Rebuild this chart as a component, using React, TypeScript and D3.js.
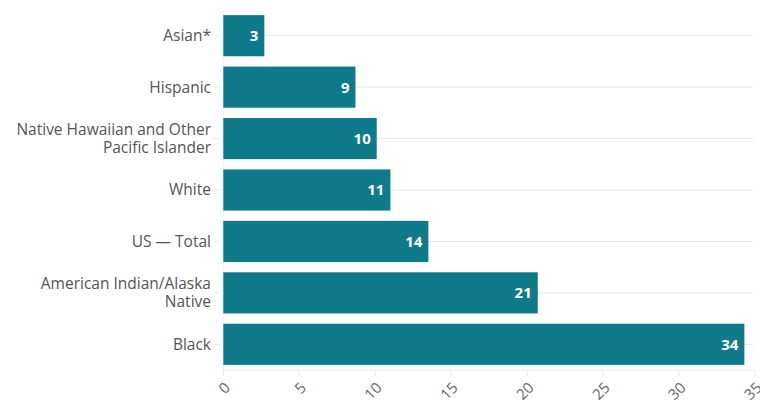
import React from "react";
import * as d3 from "d3";

const categories: string[][] = [
  ["Asian*"],
  ["Hispanic"],
  ["Native Hawaiian and Other", "Pacific Islander"],
  ["White"],
  ["US \u2014 Total"],
  ["American Indian/Alaska", "Native"],
  ["Black"],
];
const values = [2.7, 8.7, 10.1, 11.0, 13.5, 20.7, 34.3];
const xTicks = [0, 5, 10, 15, 20, 25, 30, 35];

const W = 760;
const H = 404;
const FONT = "'Open Sans', sans-serif";

export default function App() {
  const x = d3.scaleLinear().domain([0, 35]).range([223.3, 755]);
  const keys = categories.map((c) => c.join(" "));
  const y = d3
    .scaleBand<string>()
    .domain(keys)
    .range([10, 370])
    .paddingInner(0.2)
    .paddingOuter(0.1);
  const bw = y.bandwidth();

  return (
    <svg
      width={W}
      height={H}
      style={{ position: "absolute", left: 0, top: 0, background: "#fff" }}
    >
      {keys.map((k) => (
        <line
          key={"g" + k}
          x1={x(0)}
          x2={753}
          y1={(y(k) as number) + bw / 2}
          y2={(y(k) as number) + bw / 2}
          stroke="#e6e8ea"
          strokeWidth={1}
        />
      ))}
      <line x1={x(0)} x2={x(0)} y1={10} y2={370} stroke="#eef0f3" />
      <line x1={x(0)} x2={755} y1={370} y2={370} stroke="#e3e9f3" />
      {keys.map((k, i) => (
        <rect
          key={"b" + k}
          x={x(0)}
          y={y(k)}
          width={x(values[i]) - x(0)}
          height={bw}
          fill="#0f7a8a"
        />
      ))}
      {keys.map((k, i) => (
        <text
          key={"v" + k}
          x={x(values[i]) - 6}
          y={(y(k) as number) + bw / 2}
          dy="0.36em"
          textAnchor="end"
          fill="#fff"
          fontFamily={FONT}
          fontWeight={700}
          fontSize={15}
        >
          {Math.round(values[i])}
        </text>
      ))}
      {categories.map((lines, i) => {
        const cy = (y(keys[i]) as number) + bw / 2;
        const lh = 18;
        const start = cy - ((lines.length - 1) * lh) / 2;
        return (
          <g key={"y" + i}>
            <line x1={214} x2={219} y1={cy} y2={cy} stroke="#e3e6ea" />
            <text
              textAnchor="end"
              fill="#555"
              fontFamily={FONT}
              fontSize={15.5}
            >
              {lines.map((l, j) => (
                <tspan key={j} x={211} y={start + j * lh} dy="0.35em">
                  {l}
                </tspan>
              ))}
            </text>
          </g>
        );
      })}
      {xTicks.map((t) => (
        <g key={"x" + t} transform={`translate(${x(t)},370)`}>
          <line y1={0} y2={6} stroke="#e3e6ea" />
          <text
            transform="translate(4,15) rotate(-45)"
            textAnchor="end"
            dy="0.35em"
            fill="#666"
            fontFamily={FONT}
            fontSize={15}
          >
            {t}
          </text>
        </g>
      ))}
    </svg>
  );
}
